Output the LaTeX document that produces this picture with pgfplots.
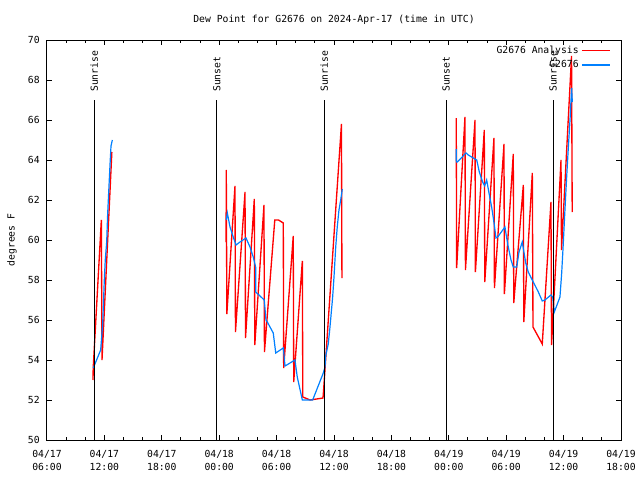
\documentclass[border=0pt]{standalone}
\usepackage{pgfplots}
\pgfplotsset{compat=1.18}
\usepackage{fontspec}
\setmainfont{DejaVu Sans Mono}
\definecolor{anared}{RGB}{255,0,0}
\definecolor{obsblue}{RGB}{0,128,255}
\begin{document}
\begin{tikzpicture}
\path[use as bounding box] (0,0) rectangle (480pt,360pt);
\begin{axis}[
  at={(35.25pt,30pt)}, anchor=south west,
  scale only axis, width=430.5pt, height=300pt,
  xmin=6, xmax=66, ymin=50, ymax=70,
  xtick={6,12,18,24,30,36,42,48,54,60,66},
  xticklabels={04/17\\06:00,04/17\\12:00,04/17\\18:00,04/18\\00:00,04/18\\06:00,04/18\\12:00,04/18\\18:00,04/19\\00:00,04/19\\06:00,04/19\\12:00,04/19\\18:00},
  minor x tick num=2,
  ytick={50,52,...,70},
  tick align=inside,
  major tick length=3.5pt, minor tick length=2pt,
  tick style={black, line width=0.75pt},
  axis line style={black, line width=0.75pt},
  /pgf/number format/assume math mode=true,
  tick label style={font=\fontsize{7.3}{9.75}\selectfont},
  xticklabel style={align=center, yshift=-4.5pt},
  yticklabel style={xshift=-2pt},
  title={Dew Point for G2676 on 2024-Apr-17 (time in UTC)},
  title style={at={(0.5,1)}, anchor=center, yshift=9.5pt, font=\fontsize{7.3}{9}\selectfont},
  ylabel={degrees F},
  ylabel style={at={(axis description cs:-0.061,0.5)}, anchor=center, font=\fontsize{7.3}{9}\selectfont},
  legend style={draw=none, fill=none, at={(1,1)}, anchor=north east, xshift=-4.5pt, yshift=0pt,
    font=\fontsize{7.3}{9}\selectfont, row sep=0pt},
  legend cell align=right,
  legend plot pos=right,
  legend image code/.code={\draw[#1] (0cm,0cm) -- (0.74cm,0cm);},
]
% Analysis (red)
\addplot[anared, line width=1pt] coordinates {
(10.81,53.0) (10.83,53.6) (11.68,61.0) (11.75,54.0) (12.78,64.4)
};
\addlegendentry{G2676 Analysis}
\addplot[anared, line width=1pt, forget plot] coordinates {
(24.72,59.9) (24.74,63.5) (24.80,56.3) (25.65,62.7) (25.70,55.4) (26.70,62.4) (26.75,55.1)
(27.67,62.05) (27.72,54.75) (28.68,61.75) (28.73,54.4) (29.81,61.0) (30.2,61.0) (30.70,60.85)
(30.74,53.6) (31.74,60.2) (31.79,52.9) (32.69,58.95) (32.74,52.15) (33.5,52.0) (34.85,52.1)
(34.90,52.4) (36.78,65.8) (36.83,58.1)
};
\addplot[anared, line width=1pt, forget plot] coordinates {
(48.78,66.1) (48.82,58.6) (49.69,66.15) (49.74,58.5) (50.74,66.0) (50.78,58.4) (51.71,65.5)
(51.76,57.9) (52.72,65.1) (52.77,57.6) (53.77,64.8) (53.81,57.3) (54.74,64.3) (54.79,56.85)
(55.79,62.75) (55.84,55.9) (56.73,63.35) (56.80,55.65) (57.77,54.8) (58.68,61.9) (58.74,54.75)
(59.73,64.0) (59.78,59.5) (60.83,69.2) (60.90,61.4)
};
% Observations (blue)
\addplot[obsblue, line width=0.9pt] coordinates {
(10.84,53.6) (11.61,54.5) (11.82,55.8) (11.99,58.0) (12.09,59.0) (12.24,59.9) (12.34,61.3)
(12.48,62.7) (12.59,63.8) (12.69,64.7) (12.83,65.0)
};
\addlegendentry{G2676}
\addplot[obsblue, line width=0.9pt, forget plot] coordinates {
(24.74,61.0) (24.85,61.35) (25.13,60.65) (25.47,60.15) (25.76,59.75) (26.17,59.9) (26.80,60.1)
(27.22,59.65) (27.56,59.15) (27.81,58.65) (27.82,57.4) (28.71,57.0) (28.89,56.0) (29.03,55.9)
(29.65,55.35) (29.91,54.35) (30.70,54.6) (30.88,53.7) (31.92,54.0) (32.16,53.15) (32.69,52.0)
(33.77,52.0) (34.88,53.35) (35.06,53.65) (35.13,54.2) (35.40,54.8) (35.58,55.65) (35.86,57.15)
(36.00,58.15) (36.18,59.65) (36.34,60.65) (36.52,61.5) (36.70,62.0) (36.87,62.55)
};
\addplot[obsblue, line width=0.9pt, forget plot] coordinates {
(48.78,64.55) (48.79,63.9) (48.89,63.9) (49.80,64.35) (50.04,64.25) (50.56,64.1) (50.92,64.0)
(51.19,63.4) (51.54,62.9) (51.75,62.7) (51.96,63.0) (52.20,62.35) (52.48,61.65) (52.76,60.75)
(52.93,60.1) (53.11,60.15) (53.87,60.65) (54.05,60.1) (54.22,59.65) (54.50,59.0) (54.74,58.65)
(55.10,58.65) (55.34,59.4) (55.68,59.9) (56.04,58.85) (56.31,58.4) (56.83,57.9) (57.36,57.4)
(57.77,56.95) (58.05,57.0) (58.68,57.25) (58.86,57.15) (59.03,56.4) (59.62,57.15) (59.80,58.35)
(59.97,59.85) (60.14,61.5) (60.32,63.15) (60.48,64.5) (60.67,66.0) (60.84,67.6) (60.91,66.9)
};
% Sunrise / sunset lines
\addplot[black, line width=0.75pt, forget plot] coordinates {(10.95,50) (10.95,67)};
\addplot[black, line width=0.75pt, forget plot] coordinates {(23.75,50) (23.75,67)};
\addplot[black, line width=0.75pt, forget plot] coordinates {(34.97,50) (34.97,67)};
\addplot[black, line width=0.75pt, forget plot] coordinates {(47.72,50) (47.72,67)};
\addplot[black, line width=0.75pt, forget plot] coordinates {(58.90,50) (58.90,67)};
\node[rotate=90, anchor=west, inner sep=0pt, font=\fontsize{7.3}{9}\selectfont] at (axis cs:10.95,67.4) {Sunrise};
\node[rotate=90, anchor=west, inner sep=0pt, font=\fontsize{7.3}{9}\selectfont] at (axis cs:23.75,67.4) {Sunset};
\node[rotate=90, anchor=west, inner sep=0pt, font=\fontsize{7.3}{9}\selectfont] at (axis cs:34.97,67.4) {Sunrise};
\node[rotate=90, anchor=west, inner sep=0pt, font=\fontsize{7.3}{9}\selectfont] at (axis cs:47.72,67.4) {Sunset};
\node[rotate=90, anchor=west, inner sep=0pt, font=\fontsize{7.3}{9}\selectfont] at (axis cs:58.90,67.4) {Sunrise};
\end{axis}
\end{tikzpicture}
\end{document}
